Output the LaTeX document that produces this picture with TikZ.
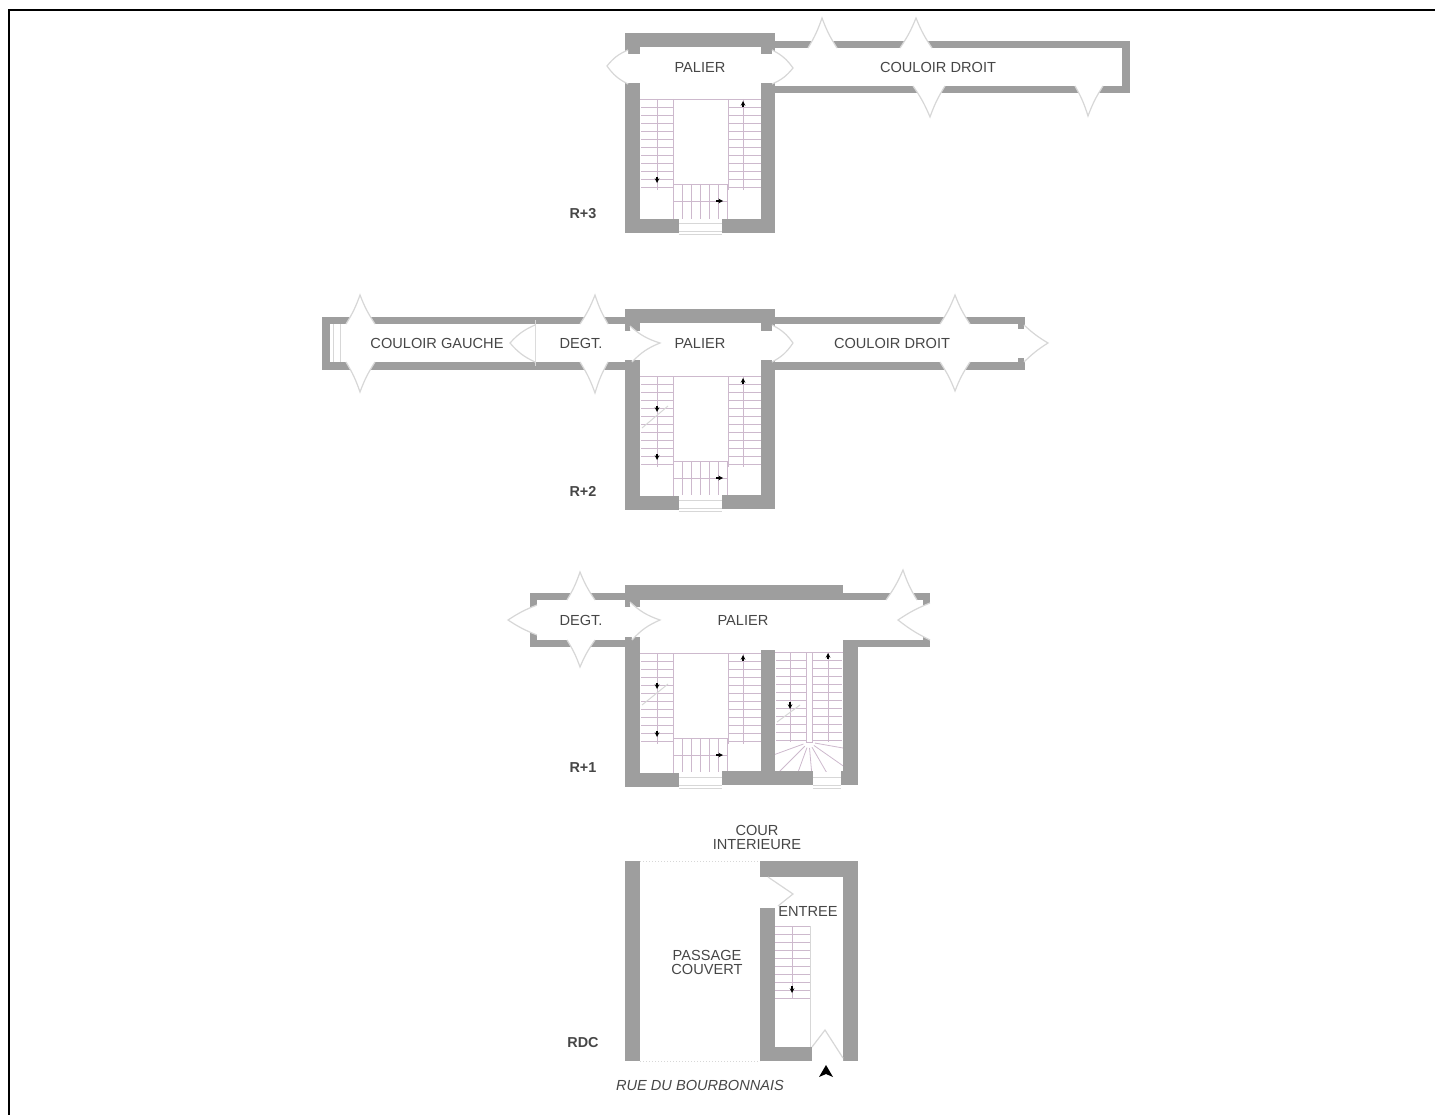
\documentclass[tikz,border=0pt]{standalone}
\usepackage{fontspec}
\setmainfont{Liberation Sans}
\usetikzlibrary{arrows}
\definecolor{wallgray}{RGB}{158,158,158}
\definecolor{doorgray}{RGB}{215,215,215}
\definecolor{stairpink}{RGB}{205,185,205}
\definecolor{textgray}{RGB}{70,70,70}
\tikzstyle{wall} = [fill=wallgray]
\tikzstyle{tread} = [draw=stairpink, line width=0.8pt]
\tikzstyle{winline} = [draw=doorgray, line width=1pt]
\tikzstyle{door} = [draw=doorgray, line width=1.2pt]
\tikzstyle{room} = [text=textgray, font=\fontsize{14.6}{14}\selectfont, align=center, inner sep=0pt]
\tikzstyle{level} = [text=textgray, font=\fontsize{14.4}{14}\selectfont\bfseries, inner sep=0pt]
\tikzstyle{arrow} = [black, line width=1.1pt, -stealth]
\newcommand{\door}[4][left=6]{\path[fill=white] (#2) to[bend #1] (#3) to[bend #1] (#4) -- cycle;
  \draw[door] (#2) to[bend #1] (#3) to[bend #1] (#4);}
\newcommand{\flightv}[5]{\foreach \y in {#3,#5,...,#4} \draw[tread] (#1,\y) -- (#2,\y);}
\newcommand{\window}[3]{\fill[white] (#1,#3-14) rectangle (#2,#3+2);
  \draw[winline] (#1,#3-9) -- (#2,#3-9) (#1,#3-1) -- (#2,#3-1) (#1,#3+2) -- (#2,#3+2);}

\begin{document}
\begin{tikzpicture}[x=1pt, y=-1pt]
    \useasboundingbox (0,0) rectangle (1435,1115);
    \draw[black, line width=2pt] (1435,10) -- (9,10) -- (9,1115);

    % the same stairwell on the three upper floors
    \foreach \dy in {0,277,554} {
        \begin{scope}[yshift=-\dy pt]
            \flightv{641}{673}{107}{190}{115}
            \flightv{728}{761}{107}{190}{115}
            \draw[tread] (640,99) -- (761,99) (673,99) -- (673,190) (728,99) -- (728,190);
            \draw[tread] (673,184) -- (728,184) (657,99) -- (657,190) (743,99) -- (743,190);
            \foreach \x in {673,682,...,728} \draw[tread] (\x,184) -- (\x,219);
            \draw[tread] (673,201) -- (728,201);
            \draw[arrow] (743,107) -- (743,101);
            \draw[arrow] (657,177) -- (657,183);
            \draw[arrow] (716,201) -- (723,201);
            \fill[wall] (625,83) rectangle (640,233);
            \fill[wall] (625,219) rectangle (679,233);
        \end{scope}
    }

    % R+3
    \fill[wall] (625,33) rectangle (775,47);
    \fill[wall] (625,47) rectangle (640,54);
    \fill[wall] (761,83) rectangle (775,233);
    \fill[wall] (761,47) rectangle (775,54);
    \fill[wall] (722,219) rectangle (775,233);
    \fill[wall] (775,41) rectangle (1130,48);
    \fill[wall] (775,86) rectangle (1130,93);
    \fill[wall] (1122,41) rectangle (1130,93);
    \window{679}{722}{233}
    \door[right=14]{628,50}{607,66}{628,84}
    \door[right=14]{772,84}{793,68}{772,50}
    \door{837,48}{822,18}{808,48}
    \door{932,48}{916,18}{900,48}
    \door{913,86}{930,117}{945,86}
    \door{1075,86}{1088,116}{1103,86}
    \node (palier3) [room] at (700,67) {PALIER};
    \node (couloir3) [room] at (938,67) {COULOIR DROIT};
    \node (r3) [level] at (583,214) {R+3};

    % R+2
    \fill[wall] (625,309) rectangle (775,323);
    \fill[wall] (625,323) rectangle (640,331);
    \fill[wall] (761,360) rectangle (775,509);
    \fill[wall] (761,323) rectangle (775,331);
    \fill[wall] (722,495) rectangle (775,509);
    \fill[wall] (322,317) rectangle (625,324);
    \fill[wall] (322,362) rectangle (625,370);
    \fill[wall] (775,317) rectangle (1025,324);
    \fill[wall] (775,362) rectangle (1025,370);
    \fill[wall] (322,317) rectangle (330,370);
    \fill[wall] (1018,317) rectangle (1025,329);
    \fill[wall] (1018,358) rectangle (1025,370);
    \draw[winline] (333,324) -- (333,362);
    \draw[winline] (340,324) -- (340,362);
    \draw[winline] (535,320) -- (535,366);
    \window{679}{722}{509}
    \door{375,324}{360,295}{346,324}
    \door{346,362}{360,392}{375,362}
    \door[right=12]{535,325}{510,343}{535,362}
    \door{608,324}{595,295}{580,324}
    \door{580,362}{595,393}{608,362}
    \door[right=12]{630,326}{660,343}{632,362}
    \door[right=14]{772,362}{793,343}{772,325}
    \door{970,324}{955,295}{940,324}
    \door{940,362}{955,391}{970,362}
    \door{1024,362}{1048,343}{1024,325}
    \draw[arrow] (657,406) -- (657,412);
    \draw[winline] (642,428) -- (668,406);
    \node (palier2) [room] at (700,343) {PALIER};
    \node (degt2) [room] at (581,343) {DEGT.};
    \node (gauche2) [room] at (437,343) {COULOIR GAUCHE};
    \node (couloir2) [room] at (892,343) {COULOIR DROIT};
    \node (r2) [level] at (583,491) {R+2};

    % R+1
    \flightv{776}{842}{660}{740}{668}
    \draw[tread] (775,652) -- (843,652) (790,652) -- (790,742) (828,652) -- (828,742);
    \foreach \a in {10,35,...,170} \draw[tread] (809,742) ++(\a:6) -- ++(\a:36);
    \fill[white, draw=stairpink] (806,652) rectangle (812,742);
    \fill[wall] (625,585) rectangle (843,600);
    \fill[wall] (625,600) rectangle (640,607);
    \fill[wall] (843,640) rectangle (858,785);
    \fill[wall] (761,650) rectangle (775,775);
    \fill[wall] (722,771) rectangle (813,785);
    \fill[wall] (841,771) rectangle (858,785);
    \fill[wall] (530,593) rectangle (625,600);
    \fill[wall] (530,640) rectangle (625,647);
    \fill[wall] (530,593) rectangle (537,608);
    \fill[wall] (530,633) rectangle (537,647);
    \fill[wall] (843,593) rectangle (930,600);
    \fill[wall] (858,640) rectangle (930,647);
    \fill[wall] (923,593) rectangle (930,606);
    \fill[wall] (923,634) rectangle (930,647);
    \window{679}{722}{786}
    \window{813}{841}{786}
    \draw[arrow] (828,659) -- (828,653);
    \draw[arrow] (790,702) -- (790,709);
    \draw[winline] (777,722) -- (800,705);
    \draw[arrow] (657,683) -- (657,689);
    \draw[winline] (642,705) -- (668,684);
    \door{537,635}{508,620}{537,605}
    \door{595,600}{580,572}{567,600}
    \door{567,640}{580,667}{595,640}
    \door[right=12]{630,602}{660,620}{632,640}
    \door{917,600}{903,570}{886,600}
    \door{930,640}{898,620}{930,603}
    \node (palier1) [room] at (743,620) {PALIER};
    \node (degt1) [room] at (581,620) {DEGT.};
    \node (r1) [level] at (583,768) {R+1};

    % RDC
    \draw[doorgray, dotted, line width=1pt] (640,861) -- (760,861);
    \draw[doorgray, dotted, line width=1pt] (640,1061) -- (760,1061);
    \flightv{775}{810}{926}{1003}{934}
    \draw[tread] (792,926) -- (792,998);
    \draw[winline] (810,926) -- (810,1047);
    \draw[arrow] (792,986) -- (792,993);
    \fill[wall] (625,861) rectangle (640,1061);
    \fill[wall] (760,861) rectangle (858,877);
    \fill[wall] (843,877) rectangle (858,1061);
    \fill[wall] (760,908) rectangle (775,1061);
    \fill[wall] (775,1047) rectangle (812,1061);
    \draw[door] (768,877) -- (793,894) -- (778,906);
    \path[fill=white] (812,1055) -- (812,1047) -- (825,1030) -- (843,1058) -- (843,1061) -- (812,1061) -- cycle;
    \draw[door] (812,1047) -- (825,1030) -- (843,1058);
    \node (cour) [room] at (757,837) {COUR\\INTERIEURE};
    \node (entree) [room] at (808,911) {ENTREE};
    \node (passage) [room] at (707,962) {PASSAGE\\COUVERT};
    \node (rdc) [level] at (583,1043) {RDC};
    \node (rue) [room, font=\fontsize{14.6}{14}\selectfont\itshape] at (700,1085) {RUE DU BOURBONNAIS};
    \fill[black] (826,1065) -- (833,1077) -- (826,1074) -- (819,1077) -- cycle;
\end{tikzpicture}
\end{document}
